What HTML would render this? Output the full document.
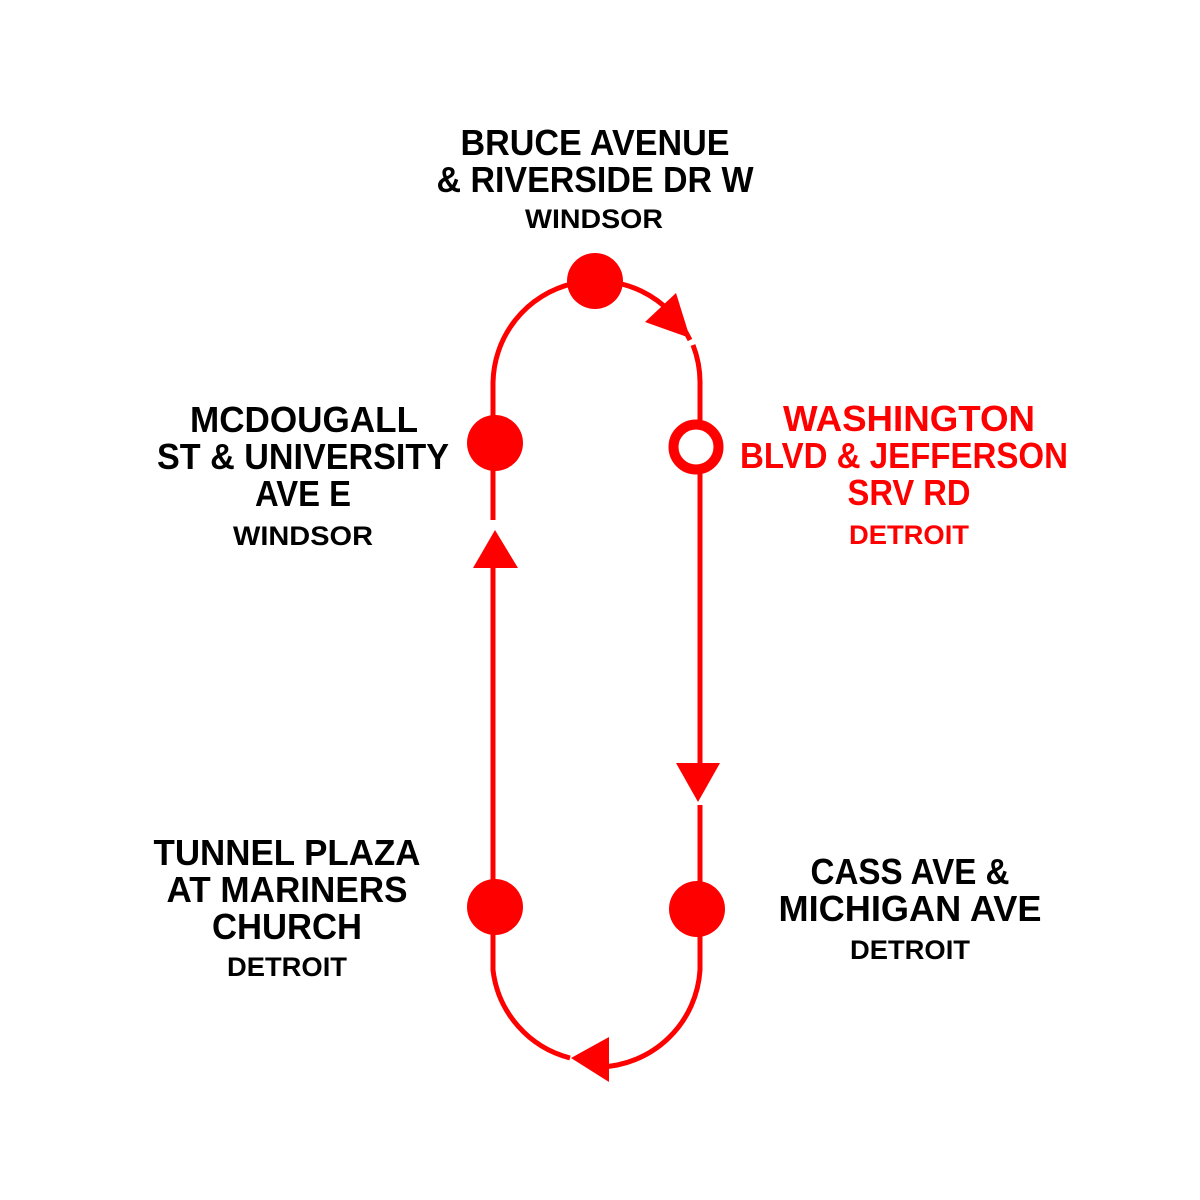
<!DOCTYPE html>
<html><head><meta charset="utf-8"><style>html,body{margin:0;padding:0;background:#fff}svg{display:block}</style></head>
<body>
<svg width="1200" height="1200" viewBox="0 0 1200 1200" xmlns="http://www.w3.org/2000/svg">
<rect width="1200" height="1200" fill="#fff"/>
<g fill="none" stroke="#f00" stroke-width="5">
<path d="M493,520 L493,385 A103.5,103.5 0 0 1 690,340"/>
<path d="M693,345 A103.5,103.5 0 0 1 700,385 L700,770"/>
<path d="M700,805 L700,970 A103.5,103.5 0 0 1 600,1067"/>
<path d="M570,1058 A103.5,103.5 0 0 1 493,970 L493,560"/>
</g>
<g fill="#f00">
<polygon points="690,338 645,322 676,293"/>
<polygon points="495,530 473,568 518,568"/>
<polygon points="698,802 676,763 720,763"/>
<polygon points="571,1058 609,1037 609,1082"/>
<circle cx="595" cy="281" r="28"/>
<circle cx="495" cy="443" r="28"/>
<circle cx="495" cy="907" r="28"/>
<circle cx="697" cy="909" r="28"/>
</g>
<circle cx="696" cy="447" r="22.5" fill="#fff" stroke="#f00" stroke-width="10"/>
<g font-family="Liberation Sans, sans-serif" font-weight="bold" text-anchor="middle" fill="#000" lengthAdjust="spacingAndGlyphs">
<text x="595" y="155" font-size="36" textLength="269" lengthAdjust="spacingAndGlyphs">BRUCE AVENUE</text>
<text x="595" y="192" font-size="36" textLength="317" lengthAdjust="spacingAndGlyphs">&amp; RIVERSIDE DR W</text>
<text x="594" y="228" font-size="27" textLength="138" lengthAdjust="spacingAndGlyphs">WINDSOR</text>

<text x="304" y="432" font-size="36" textLength="228" lengthAdjust="spacingAndGlyphs">MCDOUGALL</text>
<text x="303" y="469" font-size="36" textLength="292" lengthAdjust="spacingAndGlyphs">ST &amp; UNIVERSITY</text>
<text x="303" y="506" font-size="36" textLength="96" lengthAdjust="spacingAndGlyphs">AVE E</text>
<text x="303" y="545" font-size="27" textLength="140" lengthAdjust="spacingAndGlyphs">WINDSOR</text>

<g fill="#f00">
<text x="909" y="431" font-size="36" textLength="252" lengthAdjust="spacingAndGlyphs">WASHINGTON</text>
<text x="904" y="468" font-size="36" textLength="328" lengthAdjust="spacingAndGlyphs">BLVD &amp; JEFFERSON</text>
<text x="909" y="505" font-size="36" textLength="123" lengthAdjust="spacingAndGlyphs">SRV RD</text>
<text x="909" y="544" font-size="27" textLength="120" lengthAdjust="spacingAndGlyphs">DETROIT</text>
</g>

<text x="287" y="865" font-size="36" textLength="267" lengthAdjust="spacingAndGlyphs">TUNNEL PLAZA</text>
<text x="287" y="902" font-size="36" textLength="241" lengthAdjust="spacingAndGlyphs">AT MARINERS</text>
<text x="287" y="939" font-size="36" textLength="150" lengthAdjust="spacingAndGlyphs">CHURCH</text>
<text x="287" y="976" font-size="27" textLength="120" lengthAdjust="spacingAndGlyphs">DETROIT</text>

<text x="910" y="884" font-size="36" textLength="199" lengthAdjust="spacingAndGlyphs">CASS AVE &amp;</text>
<text x="910" y="921" font-size="36" textLength="263" lengthAdjust="spacingAndGlyphs">MICHIGAN AVE</text>
<text x="910" y="959" font-size="27" textLength="120" lengthAdjust="spacingAndGlyphs">DETROIT</text>
</g>
</svg>
</body></html>
